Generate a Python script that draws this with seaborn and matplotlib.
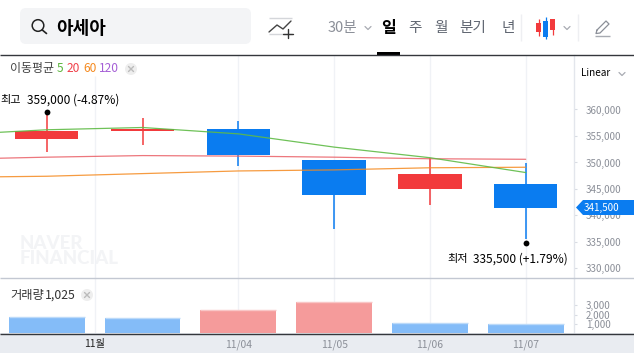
import matplotlib
matplotlib.use('Agg')
import numpy as np
import pandas as pd
import matplotlib.pyplot as plt
import seaborn as sns
from matplotlib.patches import Circle, FancyBboxPatch, Polygon, Rectangle
from matplotlib.transforms import ScaledTranslation

# candles, one per day
days = [0, 1, 2, 3, 4, 5]
opens = [354400, 355900, 356300, 350500, 345000, 345900]
closes = [355900, 356400, 351400, 343900, 347800, 341500]
highs = [359000, 358400, 357800, 350500, 350900, 349900]
lows = [352000, 353300, 349300, 337500, 342000, 335500]
volumes = [1740, 1630, 2500, 3370, 1087, 1025]
volume_kind = ['b', 'b', 'r', 'r', 'b', 'b']

# moving averages, first point is the day before the visible range
ma_days = [-1, 0, 1, 2, 3, 4, 5]
ma5 = [355200, 356170, 356600, 355400, 352900, 350900, 348100]
ma20 = [350600, 351000, 351300, 351200, 351000, 350700, 350600]
ma60 = [347200, 347400, 347900, 348400, 348600, 349000, 349100]

price_ticks = [330000, 335000, 340000, 345000, 350000, 355000, 360000]
volume_ticks = [1000, 2000, 3000]
date_ticks = [0.5, 2, 3, 4, 5]
date_labels = ['11월', '11/04', '11/05', '11/06', '11/07']

W, H = 634, 353
RED = '#f23a3c'
BLUE = '#0a7cf0'
GRAY = '#8b8f98'
DARK = '#5f6570'
GRID = '#f0f2f6'

sns.set_theme(style="white")
plt.rcParams['font.family'] = ['Noto Sans CJK KR', 'DejaVu Sans']

fig = plt.figure(figsize=(W / 100, H / 100), dpi=100)


def panel(x0, y0, x1, y1):
    return fig.add_axes([x0 / W, 1 - y1 / H, (x1 - x0) / W, (y1 - y0) / H])


# background layer in pixel coordinates, for page furniture
bg = panel(0, 0, W, H)
bg.set_xlim(0, W)
bg.set_ylim(H, 0)
bg.axis('off')
bg.add_patch(Rectangle((0, 333), W, 20, color='#e9ecf1', lw=0))
# watermark
bg.text(20, 251, 'NAVER\nFINANCIAL', fontsize=13.5, fontweight=900, color='#f3f4f6',
        va='center', family='Lato', linespacing=0.85)

ax = panel(0, 55, 574, 278)
vol = panel(0, 278, 574, 333)
for a in (ax, vol):
    a.patch.set_alpha(0)
    a.set_xlim(-0.4875, 5.504)

# price panel
ax.vlines(date_ticks[1:], 328200, 370280, color=GRID, lw=1, zorder=0)
ax.vlines(date_ticks[0], 328200, 366300, color=GRID, lw=1, zorder=0)
colors = [RED if c >= o else BLUE for o, c in zip(opens, closes)]
ax.vlines(days, lows, highs, colors=colors, lw=1.1, zorder=2)
ax.bar(days, np.array(closes) - np.array(opens), bottom=opens, width=0.66,
       color=colors, lw=0, zorder=2)

ma = pd.DataFrame({'day': ma_days, 'ma5': ma5, 'ma20': ma20, 'ma60': ma60})
sns.lineplot(data=ma, x='day', y='ma60', color='#f58a1f', lw=0.9, alpha=0.85, ax=ax, zorder=3)
sns.lineplot(data=ma, x='day', y='ma20', color='#ea5f66', lw=0.9, alpha=0.85, ax=ax, zorder=3)
sns.lineplot(data=ma, x='day', y='ma5', color='#5fbb46', lw=0.9, alpha=0.9, ax=ax, zorder=3)

ax.set_xlim(-0.4875, 5.504)
ax.set_ylim(328200, 370280)

# dots just past the wick ends
up = ax.transData + ScaledTranslation(0, 3 / 100, fig.dpi_scale_trans)
down = ax.transData + ScaledTranslation(0, -4 / 100, fig.dpi_scale_trans)
ax.plot(days[0], highs[0], 'o', color='black', ms=4.2, mew=0, transform=up, zorder=4)
ax.plot(days[5], lows[5], 'o', color='black', ms=4.2, mew=0, transform=down, zorder=4)

# volume panel
vol_df = pd.DataFrame({'day': days, 'volume': volumes, 'kind': volume_kind})
vol.vlines(date_ticks, 0, 5978, color=GRID, lw=1, zorder=0)
sns.barplot(data=vol_df, x='day', y='volume', hue='kind', palette={'r': '#f59b9b', 'b': '#84bcf8'},
            native_scale=True, dodge=False, width=0.79, saturation=1, legend=False, ax=vol,
            zorder=2, linewidth=0)
vol.hlines(volumes, np.array(days) - 0.395, np.array(days) + 0.395,
           colors=['#f9c6c6' if k == 'r' else '#bcdaf9' for k in volume_kind], lw=1, zorder=3)
vol.set_xlim(-0.4875, 5.504)
vol.set_ylim(0, 5978)

ax.yaxis.tick_right()
ax.set_yticks(price_ticks, [f'{v:,}' for v in price_ticks])
ax.set_xticks([])
vol.yaxis.tick_right()
vol.set_yticks(volume_ticks, [f'{v:,}' for v in volume_ticks])
vol.set_xticks(date_ticks, date_labels)
for a in (ax, vol):
    a.set_xlabel('')
    a.set_ylabel('')
    a.tick_params(axis='y', length=2.5, width=0.8, color='#d8dce3', pad=6, labelsize=7, labelcolor=GRAY)
    for side in ('top', 'left', 'bottom'):
        a.spines[side].set_visible(False)
    a.spines['right'].set_color('#e3e6ec')
    a.spines['right'].set_linewidth(1)
vol.tick_params(axis='x', length=0, pad=4.5, labelsize=7.4, labelcolor=GRAY)
vol.get_xticklabels()[0].set_color('#222222')

# top layer in pixel coordinates
fg = panel(0, 0, W, H)
fg.set_xlim(0, W)
fg.set_ylim(H, 0)
fg.axis('off')
fg.patch.set_alpha(0)

# panel rules
fg.hlines(55, 0, W, color='#34373c', lw=1)
fg.hlines(278, 0, W, color='#c3c8d2', lw=1)
fg.hlines(333.5, 0, W, color='#34373c', lw=1)
fg.add_patch(Rectangle((377, 52), 23, 3, color='black', lw=0))

# search box
fg.add_patch(FancyBboxPatch((20, 8), 231, 36, boxstyle='round,pad=0,rounding_size=6', fc='#f3f4f6', ec='none'))
fg.add_patch(Circle((38, 25.5), 5.8, fc='none', ec='#222222', lw=1.1))
fg.plot([42.3, 46.5], [30, 33.5], color='#222222', lw=1.2)
fg.text(56, 28, '아세아', fontsize=13, fontweight='bold', color='black', va='center', ha='left')

# chart-add icon
fg.hlines([17.5, 33.5], 269, 292, color='#d4d6da', lw=1)
fg.plot([269, 277, 283, 291], [32, 25, 29, 21], color='#444444', lw=1)
fg.plot([283, 293], [34, 34], color='#333333', lw=1)
fg.plot([288, 288], [29, 38], color='#333333', lw=1)

# period tabs
fg.text(342, 28, '30분', fontsize=10.5, color=GRAY, ha='center', va='center')
for tx, label in zip([415, 441, 473, 508], ['주', '월', '분기', '년']):
    fg.text(tx, 28, label, fontsize=10.5, color=DARK, ha='center', va='center', fontweight='medium')
fg.text(389, 28, '일', fontsize=11.5, color='black', ha='center', va='center', fontweight='bold')
fg.vlines([521, 578], 14, 41, color='#eeeff2', lw=1)


def chevron(x, y):
    fg.plot([x - 3, x, x + 3], [y - 1.5, y + 1.5, y - 1.5], color='#a8abb2', lw=0.9)


chevron(368, 28)
chevron(567, 28)
chevron(622, 74)

# candle type icon
fg.vlines([538.5, 545.5, 552.5], [19, 17, 19], [36, 39, 35], colors=[RED, BLUE, RED], lw=0.9)
fg.add_patch(Rectangle((536, 23), 5, 9, color=RED, lw=0))
fg.add_patch(Rectangle((543, 21), 5, 16, color=BLUE, lw=0))
fg.add_patch(Rectangle((550, 19), 5, 11, color=RED, lw=0))

# pencil icon
fg.plot([597, 606, 609, 600, 596, 597], [30, 21, 24, 33, 33.5, 30], color='#8b8f98', lw=0.9)
fg.hlines(35.5, 595, 610, color='#a8abb2', lw=1)

# legend rows
fg.add_patch(Rectangle((4, 57), 133, 19, color='white', lw=0, zorder=0))
fg.text(10, 68.5, '이동평균', fontsize=8.6, color='#444444', va='center')
for tx, label, c in zip([57, 67, 83, 99], ['5', '20', '60', '120'], ['#5bb53c', '#f0404a', '#f58a1f', '#a55fd6']):
    fg.text(tx, 68.5, label, fontsize=8.6, color=c, va='center')
fg.text(10, 295, '거래량', fontsize=8.8, color='#333333', va='center')
fg.text(45, 295, '1,025', fontsize=8.8, color='#333333', va='center')
for cx, cy in [(131, 69), (87, 295)]:
    fg.add_patch(Circle((cx, cy), 6, fc='#eeeeee', ec='none'))
    fg.plot([cx - 2.5, cx + 2.5], [cy - 2.5, cy + 2.5], color='#bbbbbb', lw=1)
    fg.plot([cx - 2.5, cx + 2.5], [cy + 2.5, cy - 2.5], color='#bbbbbb', lw=1)

fg.text(581, 73, 'Linear', fontsize=7.2, color='black', va='center')

# high and low callouts
fg.text(0, 100, '최고', fontsize=8, color='black', va='center')
fg.text(27, 100, '359,000 (-4.87%)', fontsize=8.6, color='black', va='center', fontweight='medium')
fg.text(447, 259, '최저', fontsize=8, color='black', va='center')
fg.text(473, 259, '335,500 (+1.79%)', fontsize=8.6, color='black', va='center', fontweight='medium')

# last price tag
fg.add_patch(Polygon([(576, 207.5), (583, 200), (634, 200), (634, 215), (583, 215)], color=BLUE, lw=0))
fg.text(584, 207.5, f'{closes[-1]:,}', fontsize=7, color='white', va='center')

plt.savefig('out.png', dpi=100)
